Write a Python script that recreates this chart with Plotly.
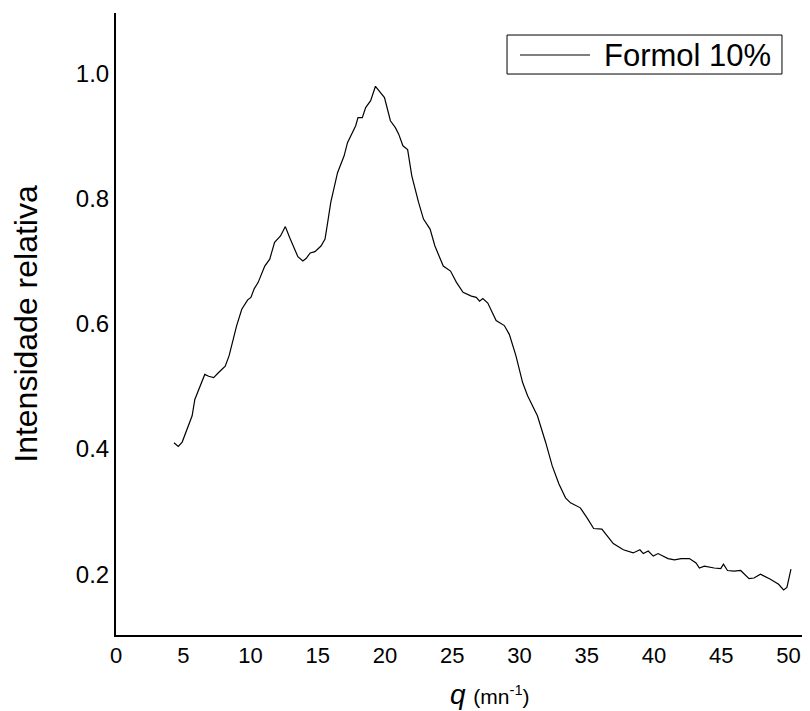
import plotly.graph_objects as go

q_values = [4.31, 4.63, 4.92, 5.30, 5.66, 5.86, 6.15, 6.60, 6.89, 7.26, 7.63, 8.12, 8.41, 8.65, 8.97,
            9.35, 9.79, 10.03, 10.28, 10.57, 11.06, 11.43, 11.79, 12.23, 12.59, 12.90, 13.27, 13.52,
            13.89, 14.13, 14.44, 14.79, 15.24, 15.54, 15.74, 15.97, 16.47, 16.96, 17.21, 17.82, 17.99,
            18.31, 18.56, 18.93, 19.29, 19.66, 19.96, 20.40, 20.77, 21.01, 21.33, 21.68, 21.99, 22.49,
            22.86, 23.35, 23.71, 24.33, 24.87, 25.31, 25.80, 26.42, 26.78, 27.03, 27.27, 27.64, 28.26,
            28.87, 29.24, 29.73, 30.23, 30.60, 31.33, 31.95, 32.43, 32.93, 33.42, 33.79, 34.52, 35.02,
            35.51, 36.12, 36.97, 37.72, 38.45, 38.95, 39.20, 39.57, 39.94, 40.30, 41.04, 41.52, 42.02,
            42.63, 43.12, 43.37, 43.74, 44.47, 44.96, 45.16, 45.46, 45.95, 46.44, 47.06, 47.43, 47.91,
            48.65, 49.26, 49.63, 49.88, 50.08, 50.18]
intensity = [0.410, 0.404, 0.411, 0.431, 0.453, 0.479, 0.495, 0.519, 0.516, 0.514, 0.522, 0.532, 0.549,
             0.570, 0.597, 0.623, 0.638, 0.642, 0.656, 0.666, 0.692, 0.703, 0.730, 0.740, 0.755, 0.738,
             0.719, 0.707, 0.700, 0.704, 0.713, 0.715, 0.724, 0.735, 0.762, 0.794, 0.841, 0.868, 0.889,
             0.916, 0.929, 0.929, 0.945, 0.956, 0.979, 0.969, 0.961, 0.924, 0.913, 0.903, 0.884, 0.878,
             0.836, 0.794, 0.767, 0.751, 0.724, 0.692, 0.684, 0.666, 0.650, 0.644, 0.642, 0.636, 0.640,
             0.633, 0.605, 0.597, 0.583, 0.549, 0.506, 0.485, 0.453, 0.410, 0.373, 0.344, 0.322, 0.314,
             0.306, 0.290, 0.273, 0.272, 0.249, 0.239, 0.234, 0.239, 0.233, 0.237, 0.229, 0.233, 0.225,
             0.223, 0.225, 0.225, 0.218, 0.210, 0.213, 0.210, 0.209, 0.216, 0.206, 0.205, 0.206, 0.193,
             0.194, 0.200, 0.192, 0.184, 0.175, 0.179, 0.197, 0.208]

x_ticks = [0, 5, 10, 15, 20, 25, 30, 35, 40, 45, 50]
y_ticks = [0.2, 0.4, 0.6, 0.8, 1.0]
y_ticklabels = ["0.2", "0.4", "0.6", "0.8", "1.0"]
series_name = "Formol 10%"

FONT = "Liberation Sans, Arial, sans-serif"

fig = go.Figure()
fig.add_trace(go.Scatter(x=q_values, y=intensity, mode="lines", name=series_name,
                         line=dict(color="black", width=1.2), showlegend=False))

fig.update_layout(
    width=794, height=703,
    margin=dict(l=108, r=0, t=5, b=76),
    paper_bgcolor="white", plot_bgcolor="white",
    font=dict(family=FONT, color="black"),
    showlegend=False,
    xaxis=dict(range=[0, 51.0], tickvals=x_ticks, ticks="", showgrid=False, zeroline=False,
               showline=True, linecolor="black", linewidth=2,
               tickfont=dict(size=22, family=FONT, color="black")),
    yaxis=dict(range=[0.103, 1.096], tickvals=y_ticks, ticktext=y_ticklabels, ticks="",
               showgrid=False, zeroline=False, showline=True, linecolor="black", linewidth=2,
               tickfont=dict(size=24, family=FONT, color="black"),
               title=dict(text="Intensidade relativa", font=dict(size=32, family=FONT, color="black"),
                          standoff=30)),
)

# legend (box, line sample, label); plot area spans x 116..802, y 13..635 px
fig.add_shape(type="rect", xref="paper", yref="paper", x0=0.5700, x1=0.9708, y0=0.9019, y1=0.9646,
              line=dict(color="black", width=1), fillcolor="white", layer="above")
fig.add_shape(type="line", xref="paper", yref="paper", x0=0.5889, x1=0.6910, y0=0.9325, y1=0.9325,
              line=dict(color="black", width=1.2), layer="above")
fig.add_annotation(xref="paper", yref="paper", x=0.7085, y=0.9325, xanchor="left", yanchor="middle",
                   showarrow=False, text=series_name, yshift=-1,
                   font=dict(size=31, family=FONT, color="black"))

fig.add_annotation(
    xref="paper", yref="paper", x=0.545, y=0, xanchor="center", yanchor="top", yshift=-42,
    showarrow=False,
    text="<i>q</i> <span style='font-size:21px'>(mn<sup>-1</sup>)</span>",
    font=dict(size=28, family=FONT, color="black"),
)

fig.write_html("out.html")
